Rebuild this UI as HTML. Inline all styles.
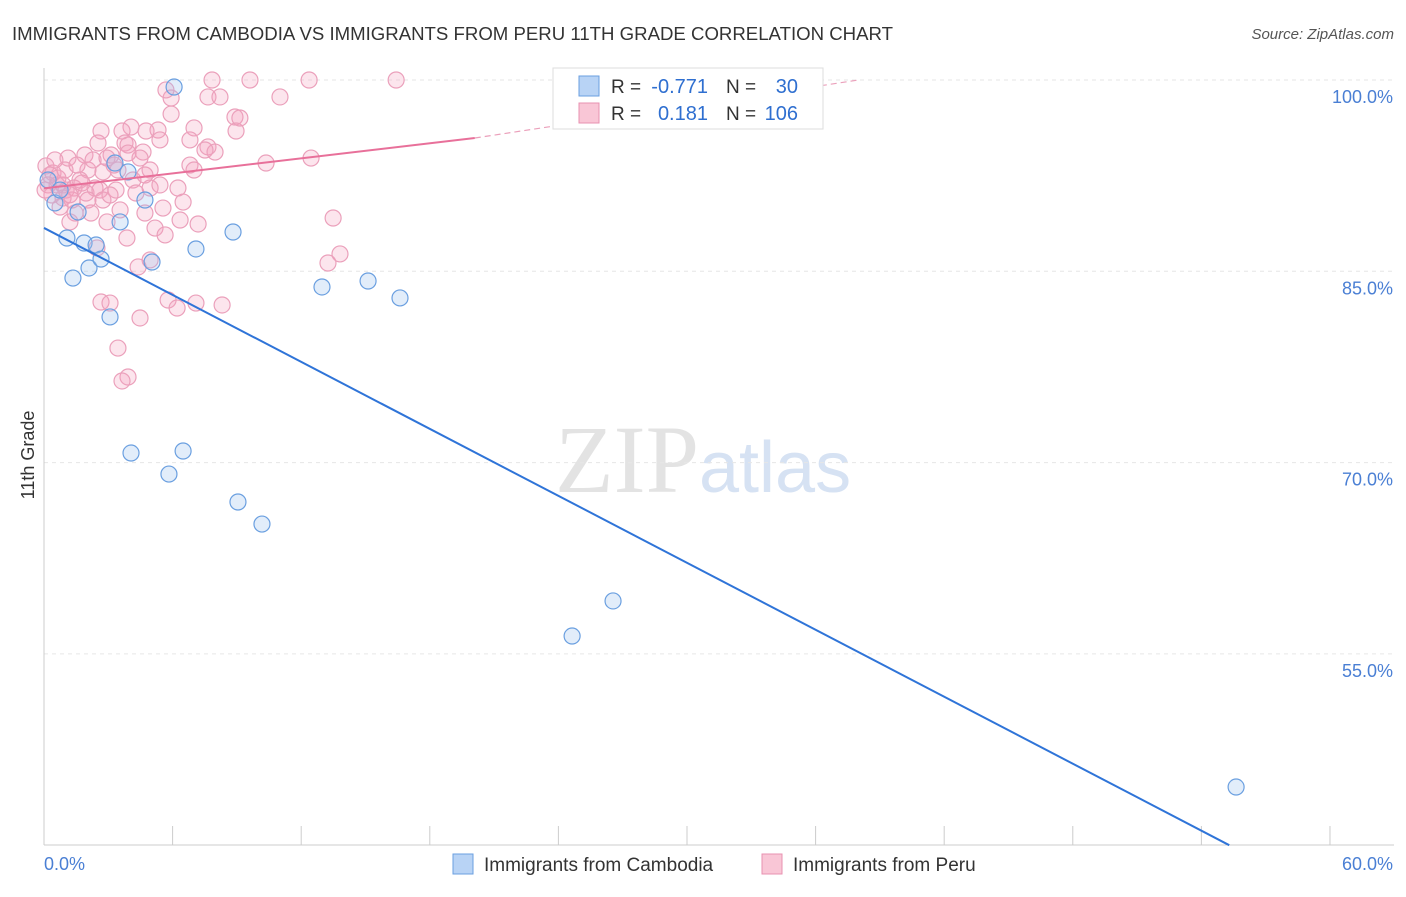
<!DOCTYPE html>
<html><head><meta charset="utf-8"><style>
body{margin:0;background:#fff;font-family:"Liberation Sans",sans-serif}
</style></head><body>
<svg width="1406" height="892" xmlns="http://www.w3.org/2000/svg" font-family="Liberation Sans, sans-serif">
<text x="12" y="40" font-size="18" fill="#333" textLength="881" lengthAdjust="spacingAndGlyphs">IMMIGRANTS FROM CAMBODIA VS IMMIGRANTS FROM PERU 11TH GRADE CORRELATION CHART</text>
<text x="1394" y="39" font-size="15" fill="#555" text-anchor="end" font-style="italic">Source: ZipAtlas.com</text>
<text x="555" y="492" font-size="96" fill="#e3e3e3" font-family="Liberation Serif, serif">ZIP<tspan fill="#d6e2f3" font-family="Liberation Sans, sans-serif" font-size="72">atlas</tspan></text>
<g id="grid"></g><g id="axes"></g><g id="pts"></g><g id="lines"></g>
<text transform="translate(34,455) rotate(-90)" font-size="18" fill="#333" text-anchor="middle">11th Grade</text>
<g>
<rect x="553" y="68" width="270" height="61" fill="#fff" stroke="#ddd"/>
<rect x="579" y="76" width="20" height="20" fill="#b8d3f5" stroke="#6a9fe0"/>
<rect x="579" y="103" width="20" height="20" fill="#f9c6d6" stroke="#e891b0"/>
<text x="611" y="93" font-size="19" fill="#333">R =</text>
<text x="708" y="93" font-size="20" fill="#2f6fd0" text-anchor="end">-0.771</text>
<text x="726" y="93" font-size="19" fill="#333">N =</text>
<text x="798" y="93" font-size="20" fill="#2f6fd0" text-anchor="end">30</text>
<text x="611" y="120" font-size="19" fill="#333">R =</text>
<text x="708" y="120" font-size="20" fill="#2f6fd0" text-anchor="end">0.181</text>
<text x="726" y="120" font-size="19" fill="#333">N =</text>
<text x="798" y="120" font-size="20" fill="#2f6fd0" text-anchor="end">106</text>
</g>
<g>
<rect x="453" y="854" width="20" height="20" fill="#b8d3f5" stroke="#6a9fe0"/>
<text x="484" y="871" font-size="19" fill="#333">Immigrants from Cambodia</text>
<rect x="762" y="854" width="20" height="20" fill="#f9c6d6" stroke="#e891b0"/>
<text x="793" y="871" font-size="19" fill="#333">Immigrants from Peru</text>
</g>
</svg>
<script>
const xTickLabels=["0.0%","60.0%"];
const yTicks=[100,85,70,55];
const blueX=[6.07,0.51,1.07,1.87,2.43,1.35,2.10,2.66,3.08,3.31,3.92,4.71,5.04,7.09,8.82,12.97,15.12,16.61,4.06,5.83,6.49,9.05,10.17,24.64,26.55,55.62,0.19,0.75,1.59,3.55];
const blueY=[99.45,90.36,87.61,87.22,87.06,84.47,85.26,85.96,81.42,93.49,92.79,90.59,85.73,86.75,88.08,83.77,84.24,82.91,70.75,69.10,70.91,66.91,65.18,56.40,59.15,44.56,92.16,91.37,89.65,88.87];
const pinkX=[7.84,9.61,12.37,16.43,5.93,7.65,8.21,11.01,5.93,8.91,8.96,7.0,5.32,4.76,4.06,3.64,2.66,2.52,3.78,5.41,6.81,7.65,7.98,4.62,3.13,1.91,1.12,0.09,10.36,12.46,6.81,7.0,4.95,4.15,3.45,2.75,2.05,1.68,0.89,0.42,0.61,1.03,1.4,1.96,2.38,3.36,4.29,4.95,6.25,6.49,5.55,4.71,3.55,2.19,1.45,0.75,1.21,2.94,5.18,5.65,3.87,2.47,7.19,13.49,13.81,13.25,4.95,4.39,5.79,6.21,7.09,8.31,2.66,3.08,4.48,3.45,3.92,3.64,0.28,0.19,0.37,0.65,0.05,0.89,1.31,1.77,2.29,2.94,3.27,4.48,3.92,6.35,2.61,0.98,0.51,1.54,2.05,2.75,5.41,3.92,7.51,9.14,5.69,3.08,4.71,1.2];
const pinkY=[100,100,100,100,98.59,98.67,98.67,98.67,97.33,97.1,96.0,96.24,96.08,96.0,96.31,96.0,96.0,95.06,95.06,95.3,95.3,94.75,94.35,94.35,94.12,94.12,93.88,93.26,93.49,93.88,93.33,92.94,92.94,92.16,92.94,92.79,92.94,92.16,91.77,92.71,91.77,91.37,91.53,91.14,91.53,91.37,91.14,91.53,91.53,90.43,89.96,89.57,89.81,89.57,89.57,90.04,88.87,88.87,88.39,87.85,87.61,86.83,88.71,89.18,86.36,85.65,85.89,85.34,82.75,82.12,82.51,82.36,82.59,82.51,81.34,78.98,76.71,76.4,92.55,91.77,90.98,92.31,91.37,90.75,90.59,91.92,93.73,93.88,93.33,93.88,94.9,89.02,91.37,92.94,93.73,93.33,90.59,90.59,91.77,94.27,94.51,97.02,99.22,90.98,92.55,91.0];
const blueTrend=[[0,88.4],[55.3,40]];
const pinkTrend=[[0,91.5],[20.1,95.45],[38,100]];
const X=v=>44+v*21.433, Y=v=>80+(100-v)*12.753;
const NS="http://www.w3.org/2000/svg";
function mk(p,t,a){const e=document.createElementNS(NS,t);for(const k in a)e.setAttribute(k,a[k]);document.getElementById(p).appendChild(e);return e;}
yTicks.forEach(t=>{const l=mk('grid','line',{x1:44,x2:1394,y1:Y(t),y2:Y(t),stroke:'#e6e6e6','stroke-dasharray':'4,4'});


const tx=mk('grid','text',{x:1393,y:Y(t)+23,'font-size':18,fill:'#4a7fd4','text-anchor':'end'});tx.textContent=t.toFixed(1)+'%';

});
mk('axes','line',{x1:44,x2:44,y1:68,y2:845,stroke:'#ccc'});
mk('axes','line',{x1:44,x2:1394,y1:845,y2:845,stroke:'#ccc'});
for(let i=0;i<=10;i++){const t=mk('axes','line',{x1:X(i*6),x2:X(i*6),y1:826,y2:845,stroke:'#ccc'});

}
const xl0=mk('axes','text',{x:44,y:870,'font-size':18,fill:'#4a7fd4'});xl0.textContent=xTickLabels[0];


const xl1=mk('axes','text',{x:1393,y:870,'font-size':18,fill:'#4a7fd4','text-anchor':'end'});xl1.textContent=xTickLabels[1];


pinkX.forEach((v,i)=>{const c=mk('pts','circle',{cx:X(v),cy:Y(pinkY[i]),r:8,fill:'rgba(244,160,190,0.28)',stroke:'#eba0bb','stroke-width':1.2});

});
blueX.forEach((v,i)=>{const c=mk('pts','circle',{cx:X(v),cy:Y(blueY[i]),r:8,fill:'rgba(160,195,240,0.3)',stroke:'#6a9fe0','stroke-width':1.2});

});
const bl=mk('lines','line',{x1:X(blueTrend[0][0]),y1:Y(blueTrend[0][1]),x2:X(blueTrend[1][0]),y2:Y(blueTrend[1][1]),stroke:'#2f74d8','stroke-width':2});


const pl=mk('lines','line',{x1:X(pinkTrend[0][0]),y1:Y(pinkTrend[0][1]),x2:X(pinkTrend[1][0]),y2:Y(pinkTrend[1][1]),stroke:'#e8709a','stroke-width':2});


const pd=mk('lines','line',{x1:X(pinkTrend[1][0]),y1:Y(pinkTrend[1][1]),x2:X(pinkTrend[2][0]),y2:Y(pinkTrend[2][1]),stroke:'#eba0bb','stroke-width':1.2,'stroke-dasharray':'6,4'});


</script>
</body></html>
